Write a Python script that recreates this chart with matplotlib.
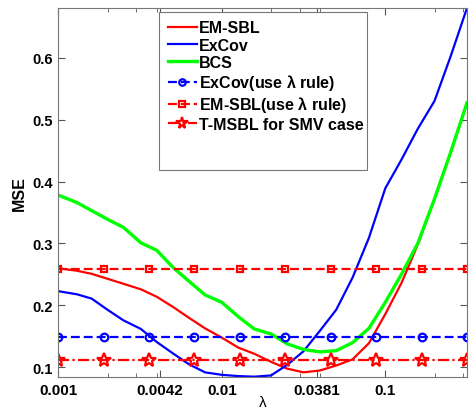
import numpy as np
import matplotlib
matplotlib.use("Agg")
import matplotlib.pyplot as plt
from matplotlib.patches import Rectangle
from matplotlib.ticker import FixedLocator, LogLocator, NullFormatter

plt.rcParams['font.family'] = ['Liberation Sans', 'DejaVu Sans']
plt.rcParams['font.weight'] = 'bold'

# lambda grid of the swept curves
lam = [0.001, 0.0013, 0.0016, 0.002, 0.0025, 0.0032, 0.004, 0.005, 0.0063,
       0.0079, 0.01, 0.0126, 0.0158, 0.02, 0.0251, 0.0316, 0.0398, 0.0501,
       0.0631, 0.0794, 0.1, 0.126, 0.158, 0.2, 0.251, 0.316]

mse_emsbl = [0.260, 0.256, 0.251, 0.243, 0.235, 0.226, 0.214, 0.198, 0.180,
             0.163, 0.148, 0.132, 0.122, 0.109, 0.098, 0.092, 0.095, 0.103,
             0.113, 0.139, 0.186, 0.237, 0.298, 0.372, 0.447, 0.527]
mse_excov = [0.223, 0.218, 0.211, 0.193, 0.176, 0.162, 0.141, 0.123, 0.105,
             0.092, 0.088, 0.086, 0.085, 0.087, 0.104, 0.126, 0.159, 0.193,
             0.245, 0.309, 0.389, 0.436, 0.485, 0.530, 0.602, 0.680]
mse_bcs = [0.378, 0.366, 0.353, 0.339, 0.326, 0.301, 0.289, 0.262, 0.239,
           0.217, 0.205, 0.182, 0.162, 0.154, 0.138, 0.129, 0.125, 0.127,
           0.140, 0.163, 0.205, 0.251, 0.300, 0.372, 0.447, 0.527]

# lambda-rule / SMV results (constant over lambda)
lam_rule = [0.001, 0.0019, 0.0036, 0.0068, 0.0129, 0.0245, 0.0464, 0.088,
            0.167, 0.316]
mse_excov_rule = [0.149] * 10
mse_emsbl_rule = [0.258] * 10
mse_tmsbl = [0.112] * 10

xticks = [0.001, 0.0042, 0.01, 0.0381, 0.1]
xticklabels = ['0.001', '0.0042', '0.01', '0.0381', '0.1']
yticks = [0.1, 0.2, 0.3, 0.4, 0.5, 0.6]

fig = plt.figure(figsize=(4.69, 4.10), dpi=100)
ax = fig.add_axes([0.1243, 0.0773, 0.8714, 0.9007])

ax.plot(lam, mse_emsbl, color='r', lw=1.6, label='EM-SBL')
ax.plot(lam, mse_excov, color='b', lw=1.6, label='ExCov')
ax.plot(lam, mse_bcs, color='#00ff00', lw=2.4, label='BCS')
ax.plot(lam_rule, mse_excov_rule, color='b', lw=1.6, dashes=(4, 1.8),
        marker='o', ms=5.5, mfc='none', mew=1.6,
        label=r'ExCov(use $\mathregular{\lambda}$ rule)')
ax.plot(lam_rule, mse_emsbl_rule, color='r', lw=1.6, dashes=(4, 1.8),
        marker='s', ms=5, mfc='none', mew=1.6,
        label=r'EM-SBL(use $\mathregular{\lambda}$ rule)')
ax.plot(lam_rule, mse_tmsbl, color='r', lw=1.6, dashes=(5, 1.5, 1, 1.5),
        marker='*', ms=10, mfc='none', mew=1.6,
        label='T-MSBL for SMV case')

ax.set_xscale('log')
ax.set_xlim(0.001, 0.316)
ax.set_ylim(0.084, 0.68)
ax.xaxis.set_major_locator(FixedLocator(xticks))
ax.set_xticklabels(xticklabels)
ax.xaxis.set_minor_locator(LogLocator(base=10, subs=[2, 3, 4]))
ax.xaxis.set_minor_formatter(NullFormatter())
ax.set_yticks(yticks)
ax.set_yticklabels(['0.1', '0.2', '0.3', '0.4', '0.5', '0.6'])

ax.tick_params(which='both', direction='in', top=True, right=True,
               color='#555555')
ax.tick_params(axis='x', labelsize=11)
ax.tick_params(axis='y', labelsize=10.5)
ax.tick_params(which='major', length=5, pad=4)
ax.tick_params(which='minor', length=3)
for s in ax.spines.values():
    s.set_color('#777777')
    s.set_linewidth(0.8)

ax.set_xlabel(r'$\mathregular{\lambda}$', fontsize=11, labelpad=-2)
ax.set_ylabel('MSE', fontsize=11.5, fontweight='bold', labelpad=4)

# Matlab-like legend box (taller than its entries)
ax.add_patch(Rectangle((0.247, 0.562), 0.508, 0.428, transform=ax.transAxes,
                       facecolor='white', edgecolor='#777777', lw=0.8,
                       zorder=4))
leg = ax.legend(loc='upper left', bbox_to_anchor=(0.247, 0.99), frameon=False,
                fontsize=11.5, handlelength=1.8, handletextpad=0.15,
                labelspacing=0.14, borderpad=0.55, borderaxespad=0,
                markerscale=0.85)
leg.set_zorder(5)

plt.savefig('out.png', dpi=100)
